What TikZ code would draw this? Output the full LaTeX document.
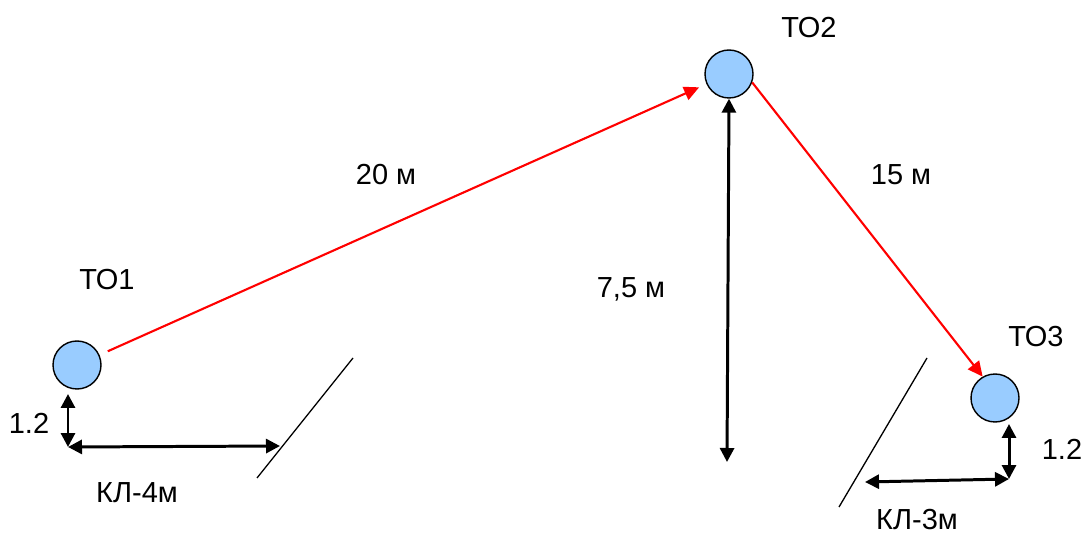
\documentclass[tikz,border=0pt]{standalone}
\usepackage{fontspec}
\setmainfont{Liberation Sans}
\usetikzlibrary{arrows.meta}
\definecolor{tofill}{RGB}{153,204,255}

\begin{document}
\begin{tikzpicture}[x=0.02cm, y=-0.02cm, font=\fontsize{16.5}{19}\selectfont,
	point/.style={circle, draw, line width=0.8pt, fill=tofill, minimum size=0.96cm, inner sep=0pt},
	lbl/.style={anchor=base, inner sep=0pt},
	route/.style={-{Triangle[length=0.3cm, width=0.28cm]}, red, line width=1.2pt},
	dim/.style={{Triangle[length=0.28cm, width=0.28cm]}-{Triangle[length=0.28cm, width=0.28cm]}, line width=1.7pt},
	wall/.style={line width=0.75pt}]
	\useasboundingbox (0,0) rectangle (1084,536);

	% Точки ТО
	\node[point] (to1) at (77,365) {};
	\node[point] (to2) at (729,74) {};
	\node[point] (to3) at (995,398) {};

	\node[lbl] (to1_lbl) at (107,290) {ТО1};
	\node[lbl] (to2_lbl) at (809,38) {ТО2};
	\node[lbl] (to3_lbl) at (1036,347) {ТО3};

	% Трасса
	\draw[route, shorten <=0.18cm, shorten >=0.16cm] (to1) -- (to2);
	\draw[route] (to2.-20) -- (to3.120);
	\node[lbl] (len_a) at (386,185) {20 м};
	\node[lbl] (len_b) at (901,185) {15 м};

	% Высота
	\coordinate (h_bot) at (727,462);
	\draw[dim] (to2.south) -- (h_bot);
	\node[lbl] (h_lbl) at (631,298) {7,5 м};

	% Стены
	\coordinate (w1_top) at (353,358);
	\coordinate (w1_bot) at (257,478);
	\coordinate (w2_top) at (927,358);
	\coordinate (w2_bot) at (839,507);
	\draw[wall] (w1_top) -- (w1_bot);
	\draw[wall] (w2_top) -- (w2_bot);

	% Размеры у ТО1
	\coordinate (c1) at (68,447);
	\coordinate (c1_top) at (68,394);
	\coordinate (c1_right) at (280,446);
	\draw[dim] (c1_top) -- (c1);
	\draw[dim] (c1) -- (c1_right);
	\node[lbl] (d1_lbl) at (29,433) {1.2};
	\node[lbl] (kl4) at (137,502) {КЛ-4м};

	% Размеры у ТО3
	\coordinate (c3) at (1009,479);
	\coordinate (c3_top) at (1009,424);
	\coordinate (c3_left) at (865,482);
	\draw[dim] (c3_top) -- (c3);
	\draw[dim] (c3) -- (c3_left);
	\node[lbl] (d3_lbl) at (1062,459) {1.2};
	\node[lbl] (kl3) at (917,529) {КЛ-3м};
\end{tikzpicture}
\end{document}
